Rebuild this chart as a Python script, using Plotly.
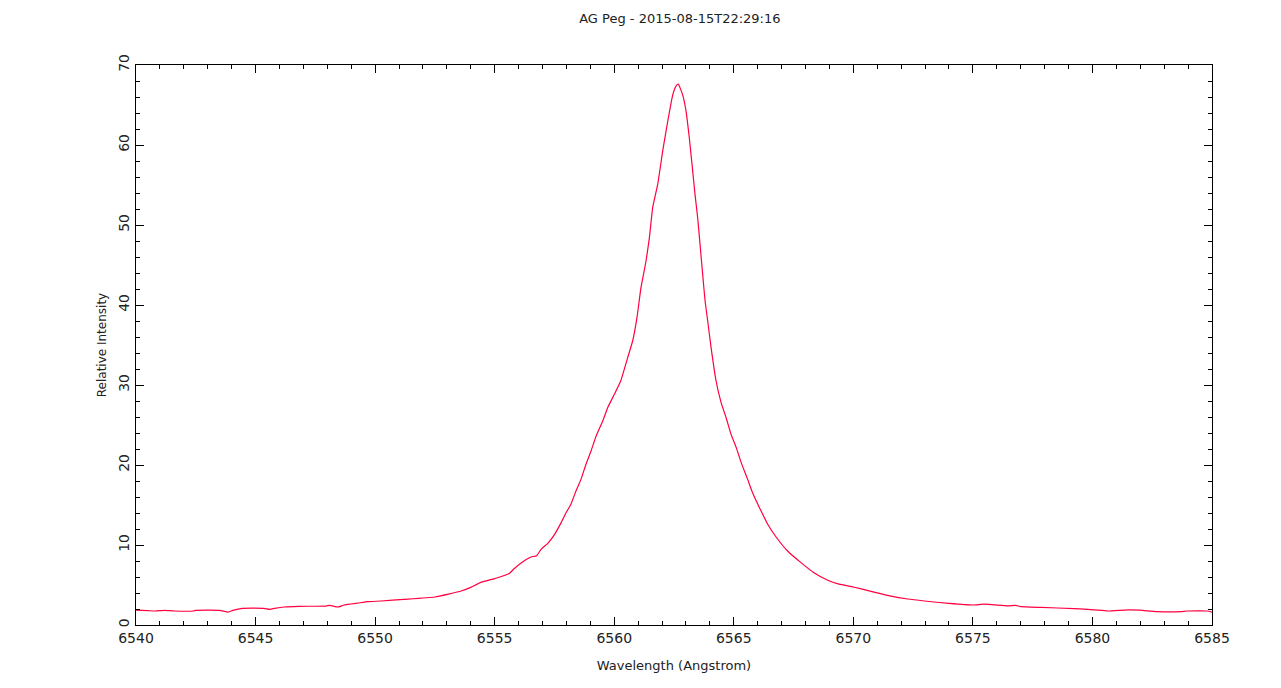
import plotly.graph_objects as go

# H-alpha profile of AG Peg
wavelength = [
    6540.0, 6540.5, 6540.8, 6541.2, 6541.6, 6542.4, 6542.5, 6543.5, 6543.85, 6544.05,
    6544.45, 6545.35, 6545.6, 6545.8, 6546.2, 6546.8, 6547.95, 6548.1, 6548.45, 6548.7,
    6549.3, 6549.7, 6550.25, 6551.2, 6552.5, 6553.6, 6554.0, 6554.4, 6555.0, 6555.6,
    6555.8, 6556.27, 6556.52, 6556.76, 6556.94, 6557.22, 6557.5, 6557.78, 6557.98, 6558.19,
    6558.4, 6558.61, 6558.82, 6559.03, 6559.24, 6559.52, 6559.73, 6560.0, 6560.27, 6560.56,
    6560.77, 6560.95, 6561.12, 6561.33, 6561.47, 6561.61, 6561.82, 6562.03, 6562.24, 6562.45,
    6562.59, 6562.68, 6562.86, 6563.0, 6563.14, 6563.28, 6563.38, 6563.49, 6563.6, 6563.7,
    6563.8, 6563.91, 6564.05, 6564.26, 6564.47, 6564.68, 6564.89, 6565.1, 6565.31, 6565.58,
    6565.79, 6566.07, 6566.42, 6566.77, 6567.25, 6567.81, 6568.37, 6568.93, 6569.4, 6570.0,
    6570.74, 6571.58, 6572.27, 6572.97, 6574.0, 6575.0, 6575.48, 6576.46, 6576.8, 6577.0,
    6577.85, 6579.24, 6580.07, 6580.64, 6581.48, 6582.0, 6582.7, 6583.7, 6583.96, 6584.8,
    6585.0,
]
intensity = [
    1.85, 1.8, 1.75, 1.83, 1.75, 1.75, 1.83, 1.83, 1.62, 1.83,
    2.08, 2.08, 1.96, 2.08, 2.25, 2.33, 2.37, 2.46, 2.25, 2.5,
    2.75, 2.92, 3.0, 3.2, 3.5, 4.25, 4.7, 5.3, 5.8, 6.4,
    7.0, 8.08, 8.5, 8.67, 9.46, 10.2, 11.3, 12.8, 14.0, 15.1,
    16.75, 18.2, 20.1, 21.75, 23.6, 25.5, 27.2, 28.8, 30.5, 33.4,
    35.5, 38.4, 42.2, 45.5, 48.4, 52.2, 55.1, 59.3, 63.0, 66.3,
    67.4, 67.6, 66.3, 64.3, 60.9, 56.8, 53.8, 50.9, 47.2, 43.8,
    40.5, 38.0, 34.7, 30.5, 27.8, 25.9, 23.8, 22.2, 20.3, 18.2,
    16.5, 14.7, 12.6, 11.0, 9.25, 7.8, 6.5, 5.6, 5.1, 4.75,
    4.2, 3.6, 3.25, 3.0, 2.7, 2.5, 2.6, 2.4, 2.45, 2.3,
    2.2, 2.05, 1.9, 1.75, 1.9, 1.85, 1.67, 1.67, 1.75, 1.75,
    1.6,
]

fig = go.Figure(go.Scatter(x=wavelength, y=intensity, mode="lines",
                           line=dict(color="#ff0040", width=1.2, shape="spline", smoothing=0.4),
                           showlegend=False))

axis_common = dict(showline=True, linecolor="black", linewidth=1, mirror="allticks",
                   ticks="inside", ticklen=8, tickcolor="black", showgrid=False,
                   zeroline=False, tickfont=dict(family="DejaVu Sans", size=14, color="#222"))

fig.update_xaxes(range=[6540, 6585], dtick=5, tick0=6540,
                 minor=dict(dtick=1, ticks="inside", ticklen=4, tickcolor="black"),
                 title=dict(text="Wavelength (Angstrom)", font=dict(family="DejaVu Sans", size=13, color="#222"),
                            standoff=16),
                 **axis_common)
fig.update_yaxes(range=[0, 70], dtick=10, tickangle=-90,
                 minor=dict(dtick=2, ticks="inside", ticklen=4, tickcolor="black"),
                 title=dict(text="Relative Intensity", font=dict(family="DejaVu Sans", size=12, color="#222"),
                            standoff=7),
                 **axis_common)

# the page adds ~7px of body margin, so margins are shifted to land the plot where the reference has it
fig.update_layout(
    title=dict(text="AG Peg - 2015-08-15T22:29:16", x=0.5245, xanchor="center",
               y=0.985, yanchor="middle",
               font=dict(family="DejaVu Sans", size=13, color="#222")),
    width=1281, height=688,
    margin=dict(l=128, r=77, t=57, b=71),
    plot_bgcolor="white", paper_bgcolor="white",
)

fig.write_html("out.html")
